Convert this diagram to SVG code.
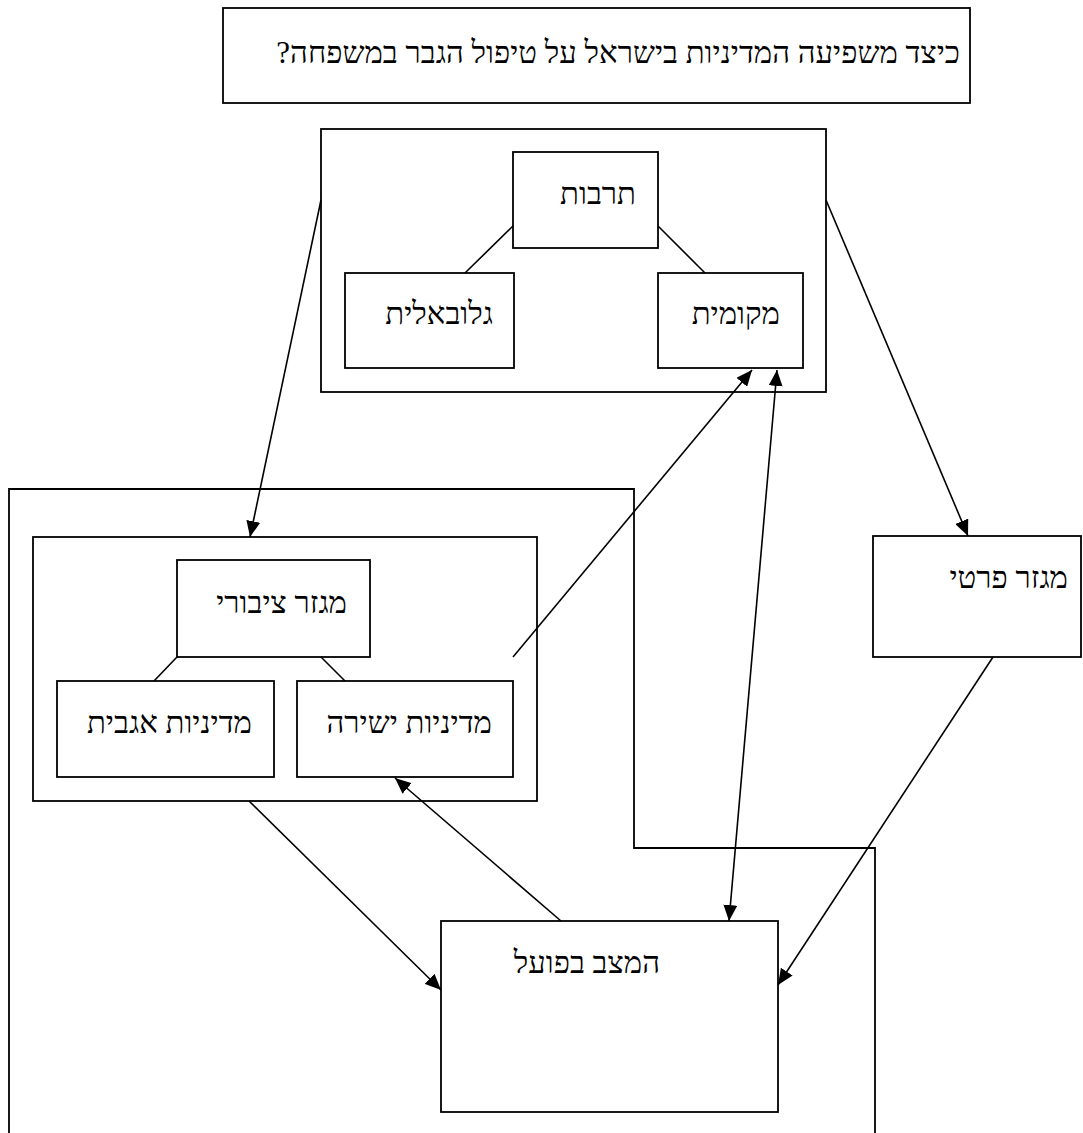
<svg xmlns="http://www.w3.org/2000/svg" width="1083" height="1133" viewBox="0 0 1083 1133">
<defs>
<style>
.box{fill:#fff;stroke:#000;stroke-width:1.8}
.frame{fill:none;stroke:#000;stroke-width:1.8}
.ln{fill:none;stroke:#000;stroke-width:1.6}
.t{font-family:"Liberation Serif","DejaVu Serif",serif;font-size:31px;fill:#000;direction:rtl;text-anchor:start}
</style>
<marker id="ah" viewBox="0 0 16 14" refX="16" refY="7" markerWidth="16" markerHeight="14" markerUnits="userSpaceOnUse" orient="auto-start-reverse">
<path d="M0,0 L16,7 L0,14 z" fill="#000"/>
</marker>
</defs>
<rect width="1083" height="1133" fill="#fff"/>
<g id="title">
<rect class="box" x="223" y="8" width="747" height="95"/>
<text class="t" x="960" y="63" direction="rtl">כיצד משפיעה המדיניות בישראל על טיפול הגבר במשפחה?</text>
</g>
<g id="frame-public">
<polyline class="frame" points="9,1133 9,489 634,489 634,848 875,848 875,1133"/>
</g>
<g id="culture-group">
<rect class="box" x="321" y="129" width="505" height="263"/>
</g>
<g id="culture">
<rect class="box" x="513" y="152" width="145" height="96"/>
<text class="t" x="636" y="204" direction="rtl">תרבות</text>
</g>
<g id="global">
<rect class="box" x="345" y="273" width="169" height="95"/>
<text class="t" x="493" y="324" direction="rtl">גלובאלית</text>
</g>
<g id="local">
<rect class="box" x="658" y="273" width="145" height="95"/>
<text class="t" x="780" y="324" direction="rtl">מקומית</text>
</g>
<g id="public-group">
<rect class="box" x="33" y="537" width="504" height="264"/>
</g>
<g id="public">
<rect class="box" x="177" y="560" width="193" height="97"/>
<text class="t" x="347" y="613" direction="rtl">מגזר ציבורי</text>
</g>
<g id="indirect">
<rect class="box" x="57" y="681" width="217" height="96"/>
<text class="t" x="252" y="733" direction="rtl">מדיניות אגבית</text>
</g>
<g id="direct">
<rect class="box" x="297" y="681" width="216" height="96"/>
<text class="t" x="492" y="733" direction="rtl">מדיניות ישירה</text>
</g>
<g id="private">
<rect class="box" x="873" y="536" width="208" height="121"/>
<text class="t" x="1068" y="588" direction="rtl">מגזר פרטי</text>
</g>
<g id="actual">
<rect class="box" x="441" y="921" width="337" height="191"/>
<text class="t" x="660" y="973" direction="rtl">המצב בפועל</text>
</g>
<g id="connectors">
<line class="ln" x1="513" y1="226" x2="465" y2="273"/>
<line class="ln" x1="658" y1="226" x2="705" y2="273"/>
<line class="ln" x1="177" y1="657" x2="154" y2="681"/>
<line class="ln" x1="321" y1="657" x2="345" y2="681"/>
<line class="ln" x1="321" y1="200" x2="250" y2="537" marker-end="url(#ah)"/>
<line class="ln" x1="826" y1="200" x2="968" y2="536" marker-end="url(#ah)"/>
<line class="ln" x1="513" y1="657" x2="752" y2="370" marker-end="url(#ah)"/>
<line class="ln" x1="777" y1="370" x2="729" y2="921" marker-start="url(#ah)" marker-end="url(#ah)"/>
<line class="ln" x1="249" y1="801" x2="441" y2="990" marker-end="url(#ah)"/>
<line class="ln" x1="561" y1="921" x2="395" y2="778" marker-end="url(#ah)"/>
<line class="ln" x1="993" y1="657" x2="778" y2="985" marker-end="url(#ah)"/>
</g>
</svg>
